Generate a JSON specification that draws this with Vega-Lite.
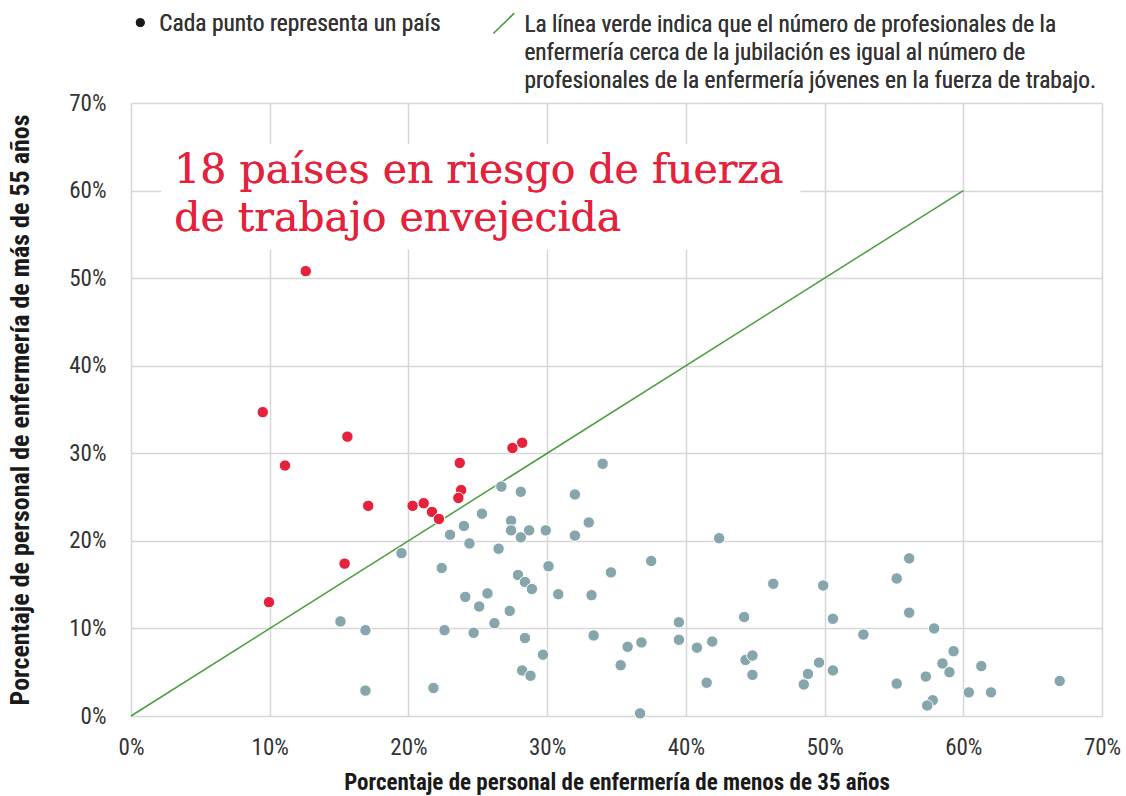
{
  "$schema": "https://vega.github.io/schema/vega-lite/v6.json",
  "width": 971,
  "height": 613,
  "autosize": {"type": "none"},
  "padding": {"left": 131, "top": 103, "right": 24, "bottom": 80},
  "background": "#ffffff",
  "config": {
    "view": {"stroke": null},
    "font": "Liberation Sans Narrow, Roboto Condensed, DejaVu Sans Condensed, sans-serif",
    "axis": {
      "grid": true,
      "gridColor": "#d6d6d6",
      "gridWidth": 1.5,
      "domain": false,
      "ticks": false,
      "labelFlush": false,
      "labelFontSize": 23,
      "labelColor": "#333333",
      "titleFontSize": 23,
      "titleFontWeight": "bold",
      "titleColor": "#1a1a1a",
      "labelFont": "Liberation Sans Narrow, Roboto Condensed, DejaVu Sans Condensed, sans-serif",
      "titleFont": "Liberation Sans Narrow, Roboto Condensed, DejaVu Sans Condensed, sans-serif"
    }
  },
  "datasets": {
    "puntos": [
      {"menos35": 26.7, "mas55": 26.2, "grupo": "otro"},
      {"menos35": 28.1, "mas55": 25.6, "grupo": "otro"},
      {"menos35": 25.3, "mas55": 23.1, "grupo": "otro"},
      {"menos35": 27.4, "mas55": 22.3, "grupo": "otro"},
      {"menos35": 24.0, "mas55": 21.7, "grupo": "otro"},
      {"menos35": 27.4, "mas55": 21.2, "grupo": "otro"},
      {"menos35": 28.7, "mas55": 21.2, "grupo": "otro"},
      {"menos35": 29.9, "mas55": 21.2, "grupo": "otro"},
      {"menos35": 28.1, "mas55": 20.4, "grupo": "otro"},
      {"menos35": 23.0, "mas55": 20.7, "grupo": "otro"},
      {"menos35": 24.4, "mas55": 19.7, "grupo": "otro"},
      {"menos35": 26.5, "mas55": 19.1, "grupo": "otro"},
      {"menos35": 19.5, "mas55": 18.6, "grupo": "otro"},
      {"menos35": 22.4, "mas55": 16.9, "grupo": "otro"},
      {"menos35": 30.1, "mas55": 17.1, "grupo": "otro"},
      {"menos35": 27.9, "mas55": 16.1, "grupo": "otro"},
      {"menos35": 28.4, "mas55": 15.3, "grupo": "otro"},
      {"menos35": 28.9, "mas55": 14.5, "grupo": "otro"},
      {"menos35": 30.8, "mas55": 13.9, "grupo": "otro"},
      {"menos35": 25.7, "mas55": 14.0, "grupo": "otro"},
      {"menos35": 24.1, "mas55": 13.6, "grupo": "otro"},
      {"menos35": 25.1, "mas55": 12.5, "grupo": "otro"},
      {"menos35": 27.3, "mas55": 12.0, "grupo": "otro"},
      {"menos35": 26.2, "mas55": 10.6, "grupo": "otro"},
      {"menos35": 15.1, "mas55": 10.8, "grupo": "otro"},
      {"menos35": 16.9, "mas55": 9.8, "grupo": "otro"},
      {"menos35": 22.6, "mas55": 9.8, "grupo": "otro"},
      {"menos35": 24.7, "mas55": 9.5, "grupo": "otro"},
      {"menos35": 28.4, "mas55": 8.9, "grupo": "otro"},
      {"menos35": 29.7, "mas55": 7.0, "grupo": "otro"},
      {"menos35": 28.2, "mas55": 5.2, "grupo": "otro"},
      {"menos35": 28.8, "mas55": 4.6, "grupo": "otro"},
      {"menos35": 16.9, "mas55": 2.9, "grupo": "otro"},
      {"menos35": 21.8, "mas55": 3.2, "grupo": "otro"},
      {"menos35": 34.0, "mas55": 28.8, "grupo": "otro"},
      {"menos35": 32.0, "mas55": 25.3, "grupo": "otro"},
      {"menos35": 33.0, "mas55": 22.1, "grupo": "otro"},
      {"menos35": 32.0, "mas55": 20.6, "grupo": "otro"},
      {"menos35": 42.4, "mas55": 20.3, "grupo": "otro"},
      {"menos35": 37.5, "mas55": 17.7, "grupo": "otro"},
      {"menos35": 34.6, "mas55": 16.4, "grupo": "otro"},
      {"menos35": 46.3, "mas55": 15.1, "grupo": "otro"},
      {"menos35": 49.9, "mas55": 14.9, "grupo": "otro"},
      {"menos35": 33.2, "mas55": 13.8, "grupo": "otro"},
      {"menos35": 44.2, "mas55": 11.3, "grupo": "otro"},
      {"menos35": 50.6, "mas55": 11.1, "grupo": "otro"},
      {"menos35": 39.5, "mas55": 10.7, "grupo": "otro"},
      {"menos35": 33.35, "mas55": 9.2, "grupo": "otro"},
      {"menos35": 35.8, "mas55": 7.9, "grupo": "otro"},
      {"menos35": 36.8, "mas55": 8.4, "grupo": "otro"},
      {"menos35": 39.5, "mas55": 8.7, "grupo": "otro"},
      {"menos35": 40.8, "mas55": 7.8, "grupo": "otro"},
      {"menos35": 41.9, "mas55": 8.5, "grupo": "otro"},
      {"menos35": 44.3, "mas55": 6.4, "grupo": "otro"},
      {"menos35": 44.8, "mas55": 6.9, "grupo": "otro"},
      {"menos35": 44.8, "mas55": 4.7, "grupo": "otro"},
      {"menos35": 35.3, "mas55": 5.8, "grupo": "otro"},
      {"menos35": 41.5, "mas55": 3.8, "grupo": "otro"},
      {"menos35": 48.8, "mas55": 4.8, "grupo": "otro"},
      {"menos35": 48.5, "mas55": 3.6, "grupo": "otro"},
      {"menos35": 49.6, "mas55": 6.1, "grupo": "otro"},
      {"menos35": 50.6, "mas55": 5.2, "grupo": "otro"},
      {"menos35": 36.7, "mas55": 0.3, "grupo": "otro"},
      {"menos35": 56.1, "mas55": 18.0, "grupo": "otro"},
      {"menos35": 55.2, "mas55": 15.7, "grupo": "otro"},
      {"menos35": 56.1, "mas55": 11.8, "grupo": "otro"},
      {"menos35": 52.8, "mas55": 9.3, "grupo": "otro"},
      {"menos35": 57.9, "mas55": 10.0, "grupo": "otro"},
      {"menos35": 59.3, "mas55": 7.4, "grupo": "otro"},
      {"menos35": 58.5, "mas55": 6.0, "grupo": "otro"},
      {"menos35": 59.0, "mas55": 5.0, "grupo": "otro"},
      {"menos35": 61.3, "mas55": 5.7, "grupo": "otro"},
      {"menos35": 57.3, "mas55": 4.5, "grupo": "otro"},
      {"menos35": 55.2, "mas55": 3.7, "grupo": "otro"},
      {"menos35": 57.8, "mas55": 1.8, "grupo": "otro"},
      {"menos35": 57.4, "mas55": 1.2, "grupo": "otro"},
      {"menos35": 60.4, "mas55": 2.7, "grupo": "otro"},
      {"menos35": 62.0, "mas55": 2.7, "grupo": "otro"},
      {"menos35": 66.95, "mas55": 4.0, "grupo": "otro"},
      {"menos35": 12.6, "mas55": 50.8, "grupo": "riesgo"},
      {"menos35": 9.5, "mas55": 34.7, "grupo": "riesgo"},
      {"menos35": 15.6, "mas55": 31.9, "grupo": "riesgo"},
      {"menos35": 11.1, "mas55": 28.6, "grupo": "riesgo"},
      {"menos35": 28.2, "mas55": 31.2, "grupo": "riesgo"},
      {"menos35": 27.5, "mas55": 30.6, "grupo": "riesgo"},
      {"menos35": 23.7, "mas55": 28.9, "grupo": "riesgo"},
      {"menos35": 23.8, "mas55": 25.8, "grupo": "riesgo"},
      {"menos35": 23.6, "mas55": 24.9, "grupo": "riesgo"},
      {"menos35": 17.1, "mas55": 24.0, "grupo": "riesgo"},
      {"menos35": 20.3, "mas55": 24.0, "grupo": "riesgo"},
      {"menos35": 21.1, "mas55": 24.3, "grupo": "riesgo"},
      {"menos35": 21.7, "mas55": 23.3, "grupo": "riesgo"},
      {"menos35": 22.2, "mas55": 22.5, "grupo": "riesgo"},
      {"menos35": 15.4, "mas55": 17.4, "grupo": "riesgo"},
      {"menos35": 9.95, "mas55": 13.0, "grupo": "riesgo"}
    ],
    "linea": [
      {"menos35": 0, "mas55": 0},
      {"menos35": 60, "mas55": 60}
    ]
  },
  "layer": [
    {
      "data": {"name": "linea"},
      "mark": {"type": "rect", "fill": "#ffffff", "opacity": 1},
      "encoding": {
        "x": {"datum": 2.2, "type": "quantitative", "scale": {"domain": [0, 70], "nice": false, "zero": false},
          "axis": {"values": [0, 10, 20, 30, 40, 50, 60, 70], "labelExpr": "datum.value + '%'", "labelPadding": 20, "labelDx": -4,
            "title": "Porcentaje de personal de enfermería de menos de 35 años", "titlePadding": 12}},
        "x2": {"datum": 48.25},
        "y": {"datum": 53.3, "type": "quantitative", "scale": {"domain": [0, 70], "nice": false, "zero": false},
          "axis": {"values": [0, 10, 20, 30, 40, 50, 60, 70], "labelExpr": "datum.value + '%'", "labelPadding": 25,
            "title": "Porcentaje de personal de enfermería de más de 55 años", "titleFontSize": 26, "titlePadding": 35}},
        "y2": {"datum": 65.3}
      }
    },
    {
      "data": {"name": "linea"},
      "mark": {"type": "line", "color": "#4a9e3f", "strokeWidth": 1.5},
      "encoding": {
        "x": {"field": "menos35", "type": "quantitative"},
        "y": {"field": "mas55", "type": "quantitative"}
      }
    },
    {
      "data": {"name": "puntos"},
      "mark": {"type": "point", "filled": true, "shape": "circle", "size": 130, "stroke": "#ffffff", "strokeWidth": 1, "opacity": 1},
      "encoding": {
        "x": {"field": "menos35", "type": "quantitative"},
        "y": {"field": "mas55", "type": "quantitative"},
        "color": {"field": "grupo", "type": "nominal", "scale": {"domain": ["otro", "riesgo"], "range": ["#86a6ac", "#e5213b"]}, "legend": null}
      }
    },
    {
      "data": {"name": "linea"},
      "mark": {"type": "text", "text": ["18 países en riesgo de fuerza", "de trabajo envejecida"], "font": "DejaVu Serif", "fontSize": 41, "lineHeight": 48, "color": "#e5213b", "align": "left", "baseline": "alphabetic"},
      "encoding": {
        "x": {"datum": 3.12, "type": "quantitative"},
        "y": {"datum": 60.9, "type": "quantitative"}
      }
    },
    {
      "data": {"name": "linea"},
      "mark": {"type": "point", "filled": true, "shape": "circle", "size": 80, "color": "#1a1a1a", "opacity": 1},
      "encoding": {
        "x": {"datum": 0.67, "type": "quantitative"},
        "y": {"datum": 79.18, "type": "quantitative"}
      }
    },
    {
      "data": {"name": "linea"},
      "mark": {"type": "rule", "color": "#4a9e3f", "strokeWidth": 1.3},
      "encoding": {
        "x": {"datum": 26.13, "type": "quantitative"},
        "y": {"datum": 77.95, "type": "quantitative"},
        "x2": {"datum": 27.62},
        "y2": {"datum": 80.24}
      }
    },
    {
      "data": {"name": "linea"},
      "mark": {"type": "text", "text": "Cada punto representa un país", "fontSize": 23.4, "color": "#333333", "align": "left", "baseline": "alphabetic"},
      "encoding": {
        "x": {"datum": 2.04, "type": "quantitative"},
        "y": {"datum": 78.22, "type": "quantitative"}
      }
    },
    {
      "data": {"name": "linea"},
      "mark": {"type": "text", "text": ["La línea verde indica que el número de profesionales de la", "enfermería cerca de la jubilación es igual al número de", "profesionales de la enfermería jóvenes en la fuerza de trabajo."], "fontSize": 23.3, "lineHeight": 28, "color": "#333333", "align": "left", "baseline": "alphabetic"},
      "encoding": {
        "x": {"datum": 28.36, "type": "quantitative"},
        "y": {"datum": 78.11, "type": "quantitative"}
      }
    }
  ]
}
